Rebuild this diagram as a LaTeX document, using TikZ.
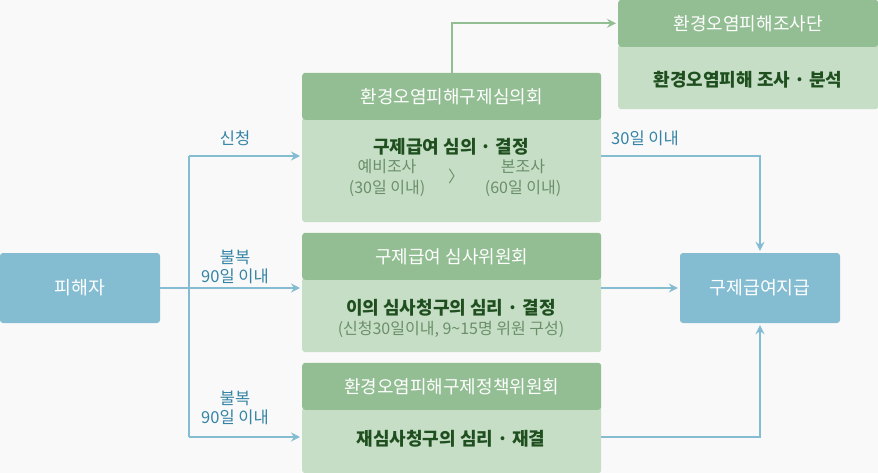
\documentclass[tikz,border=0pt]{standalone}
\usepackage{fontspec}
\setmainfont{Noto Sans CJK KR}
\usetikzlibrary{positioning,arrows.meta}
\definecolor{headGreen}{HTML}{93BE93}
\definecolor{bodyGreen}{HTML}{C6DEC6}
\definecolor{boxBlue}{HTML}{84BCD2}
\definecolor{labelBlue}{HTML}{3584A6}
\definecolor{textGreen}{HTML}{1F4F1F}
\definecolor{subGreen}{HTML}{6A8F6A}
\definecolor{pageBG}{HTML}{F9F9F9}

\begin{document}
\begin{tikzpicture}[x=1pt,y=-1pt,
  every node/.style={font=\fontsize{15}{19}\selectfont,inner sep=0pt},
  headbox/.style={fill=headGreen,rounded corners=3pt,text=white,
    font=\fontsize{18}{21}\selectfont,minimum width=299pt,minimum height=47pt},
  bodybox/.style={fill=bodyGreen,rounded corners=3pt,minimum width=299pt},
  bluebox/.style={fill=boxBlue,rounded corners=3pt,text=white,
    font=\fontsize{18.3}{21}\selectfont,minimum width=160pt,minimum height=70pt},
  maintxt/.style={text=textGreen,font=\fontsize{18}{21}\selectfont\bfseries},
  subtxt/.style={text=subGreen,align=center,font=\fontsize{16}{21}\selectfont},
  lbl/.style={text=labelBlue,align=center,font=\fontsize{16.5}{19}\selectfont},
  conn/.style={draw=boxBlue,line width=2pt},
  arr/.style={conn,-{Stealth[length=9pt,width=9pt,inset=3pt]},shorten >=2pt},
  garr/.style={draw=headGreen,line width=2pt,-{Stealth[length=9pt,width=9pt,inset=3pt]},shorten >=2pt}
]
  \fill[pageBG] (0,0) rectangle (878,473);
  \useasboundingbox (0,0) rectangle (878,473);

  % --- victim and payment ---
  \node[bluebox] (victim) at (80,288) {피해자};
  \node[bluebox] (pay) at (760,288) {구제급여지급};

  % --- committees ---
  \node[bodybox,minimum height=105pt,anchor=north west] (b1body) at (302,117) {};
  \node[headbox,above=-3pt of b1body] (b1head) {환경오염피해구제심의회};
  \node[bodybox,minimum height=75pt,anchor=north west] (b2body) at (302,277) {};
  \node[headbox,above=-3pt of b2body] (b2head) {구제급여 심사위원회};
  \node[bodybox,minimum height=66pt,anchor=north west] (b3body) at (302,407) {};
  \node[headbox,above=-3pt of b3body] (b3head) {환경오염피해구제정책위원회};
  \node[bodybox,minimum width=260pt,minimum height=65pt,anchor=north west] (tbody) at (618,44) {};
  \node[headbox,minimum width=260pt,above=-3pt of tbody] (thead) {환경오염피해조사단};

  % --- texts in the boxes ---
  \node[maintxt] (b1main) at (451,147) {구제급여 심의 · 결정};
  \node[subtxt] (pre) at (387,178) {예비조사\\(30일 이내)};
  \node[subtxt] (gt) at (456,176) {〉};
  \node[subtxt] (main) at (523,178) {본조사\\(60일 이내)};
  \node[maintxt] (b2main) at (451,308) {이의 심사청구의 심리 · 결정};
  \node[subtxt] (b2sub) at (451,329) {(신청30일이내, 9\textasciitilde15명 위원 구성)};
  \node[maintxt] (b3main) at (451,439) {재심사청구의 심리 · 재결};
  \node[maintxt] (tmain) at (748,80) {환경오염피해 조사 · 분석};

  % --- connectors ---
  \coordinate (t1) at (189,156);
  \coordinate (t3) at (189,437);
  \draw[conn] (t1) -- (t3);
  \draw[arr] (t1) -- (t1 -| b1body.west);
  \draw[arr] (victim.east) -- (victim.east -| b2body.west);
  \draw[arr] (t3) -- (t3 -| b3body.west);
  \draw[arr] (b1body.east |- t1) -| (pay.north);
  \draw[arr] (b2body.east |- pay.west) -- (pay.west);
  \draw[arr] (b3body.east |- t3) -| (pay.south);
  \draw[garr] (b1head.north) |- (thead.west);

  % labels
  \node[lbl] (l1) at (235,138) {신청};
  \node[lbl] (l2) at (235,267) {불복\\90일 이내};
  \node[lbl] (l3) at (235,408) {불복\\90일 이내};
  \node[lbl] (l4) at (645,138) {30일 이내};
\end{tikzpicture}
\end{document}
